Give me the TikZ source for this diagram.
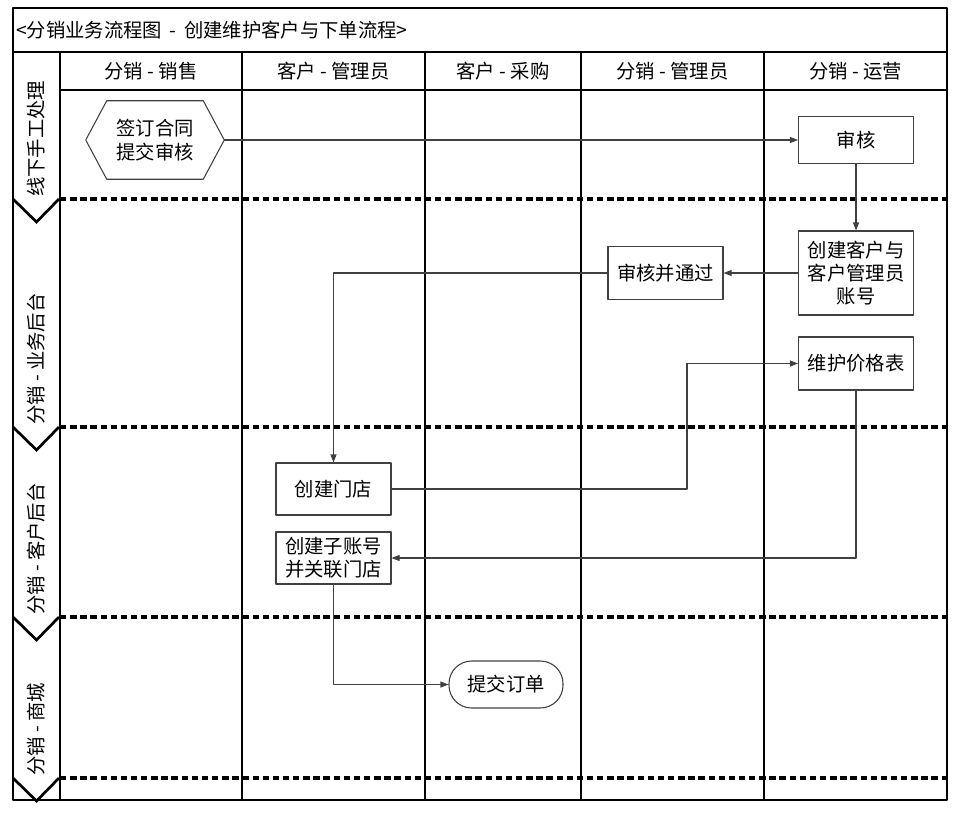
\documentclass[tikz,border=0pt]{standalone}
\usepackage{fontspec}
\setmainfont{Noto Sans CJK SC}
\usetikzlibrary{arrows.meta,positioning}
\tikzset{
  box/.style={draw=black!75, line width=0.8pt, minimum width=86.25pt, minimum height=39pt, inner sep=1pt, align=center},
  boxline/.style={draw=black!75, line width=0.8pt},
  lanelabel/.style={rotate=90, anchor=west, inner sep=0pt},
  flow/.style={draw=black!75, line width=0.8pt, -{Triangle[length=6pt,width=4.5pt]}},
  lanesep/.style={line width=2.4pt, dash pattern=on 4.8pt off 2.8pt},
  chevron/.style={line width=2pt, line join=miter},
}
\begin{document}
\begin{tikzpicture}[x=0.75pt, y=-0.75pt, font=\fontsize{14.5}{17.5}\selectfont, line join=round]
\useasboundingbox (0,0) rectangle (963,813);
% frame and columns
\draw[line width=0.8pt] (13,8) rectangle (947,800);
\draw[line width=0.8pt] (13,52) -- (947,52);
\draw[line width=0.8pt] (60,90) -- (947,90);
\foreach \x in {60,242,425,581,764} \draw[line width=0.8pt] (\x,52) -- (\x,800);
\node[anchor=west, inner sep=0pt] (title) at (16,30) {<分销业务流程图\ \,-\ \,创建维护客户与下单流程>};
\foreach \x/\t [count=\i] in {151/分销 - 销售,333.5/客户 - 管理员,503/客户 - 采购,672.5/分销 - 管理员,855.5/分销 - 运营}
  \node (head\i) at (\x,71) {\t};
% lanes
\foreach \y/\t [count=\i] in {199/线下手工处理,427/分销 - 业务后台,617/分销 - 客户后台,778/分销 - 商城}{
  \draw[lanesep] (60,\y) -- (947,\y);
  \draw[chevron] (13,\y) -- (36.5,\y+23) -- (59,\y);
  \node[lanelabel] (lane\i) at (36,\y-2) {\t};
}
% steps
\node[minimum width=103.5pt, minimum height=58.5pt, inner sep=1pt, align=center] (sign) at (155,140) {签订合同\\提交审核};
\draw[boxline] ([xshift=15.75pt]sign.north west) -- ([xshift=-15.75pt]sign.north east) -- (sign.east)
  -- ([xshift=-15.75pt]sign.south east) -- ([xshift=15.75pt]sign.south west) -- (sign.west) -- cycle;
\node[box, minimum height=35.25pt] (audit) at (856,140) {审核};
\node[box, minimum height=63pt] (newcust) at (856,273) {创建客户与\\客户管理员\\账号};
\node[box, minimum height=39.75pt] (approve) at (665.5,273) {审核并通过};
\node[box, minimum height=39.75pt] (price) at (856,363.5) {维护价格表};
\node[box] (store) at (333.5,489) {创建门店};
\node[box] (subacct) at (333.5,558) {创建子账号\\并关联门店};
\node[box, rounded corners=17pt, minimum width=85.5pt, minimum height=35.25pt] (order) at (506,684.5) {提交订单};
\coordinate (turn) at (687,489);
% connectors
\draw[flow] (sign.east) -- (audit.west);
\draw[flow] (audit.south) -- (newcust.north);
\draw[flow] (newcust.west) -- (approve.east);
\draw[flow] (approve.west) -| (store.north);
\draw[flow] (store.east) -- (turn) |- (price.west);
\draw[flow] (price.south) |- (subacct.east);
\draw[flow] (subacct.south) |- (order.west);
\end{tikzpicture}
\end{document}
